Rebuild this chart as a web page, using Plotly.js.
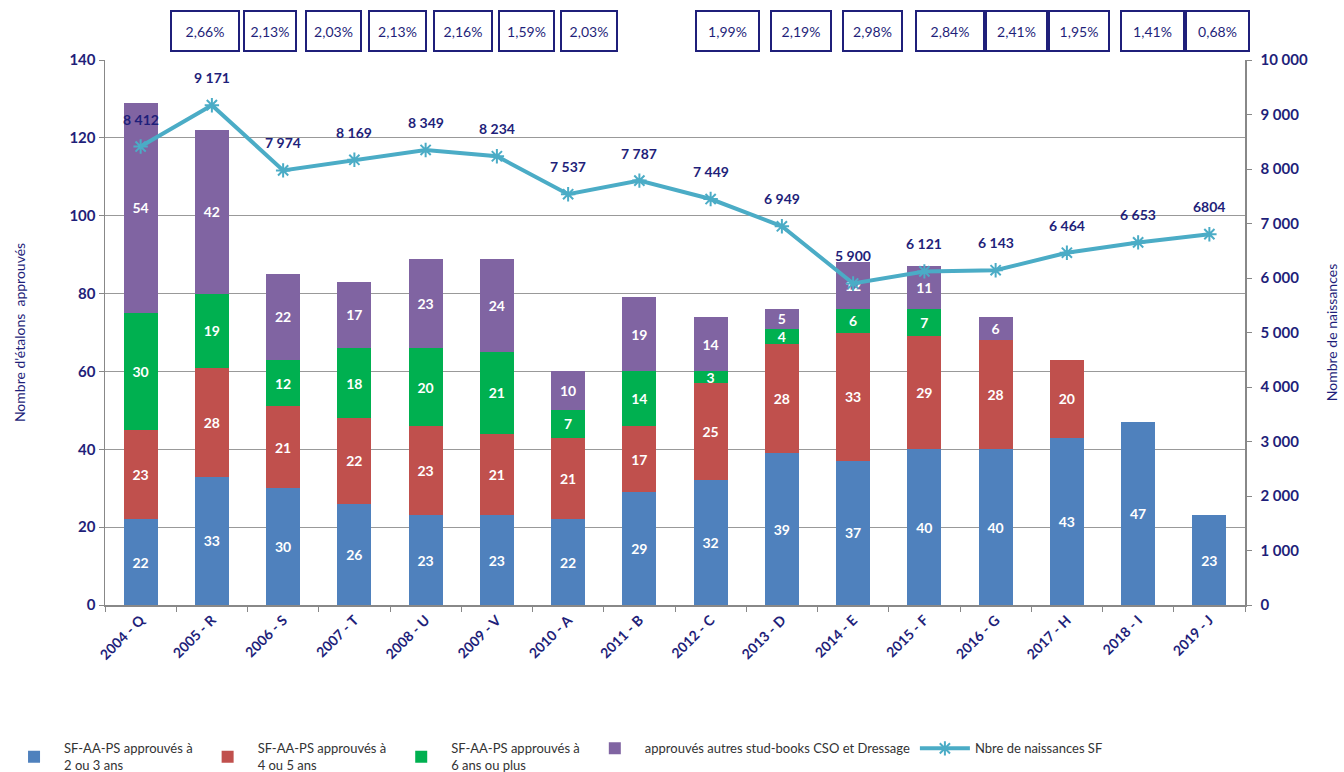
<!DOCTYPE html>
<html>
<head>
<meta charset="utf-8">
<script src="https://cdn.plot.ly/plotly-3.0.1.min.js"></script>
<style>html,body{margin:0;padding:0;background:#fff;}#chart{width:1344px;height:772px;}</style>
</head>
<body>
<div id="chart"></div>
<script>
// ---- data ----
var categories = ["2004 - Q","2005 - R","2006 - S","2007 - T","2008 - U","2009 - V","2010 - A","2011 - B","2012 - C","2013 - D","2014 - E","2015 - F","2016 - G","2017 - H","2018 - I","2019 - J"];
var age23 = [22,33,30,26,23,23,22,29,32,39,37,40,40,43,47,23];
var age45 = [23,28,21,22,23,21,21,17,25,28,33,29,28,20,null,null];
var age6plus = [30,19,12,18,20,21,7,14,3,4,6,7,null,null,null,null];
var autres = [54,42,22,17,23,24,10,19,14,5,12,11,6,null,null,null];
var naissances = [8412,9171,7974,8169,8349,8234,7537,7787,7449,6949,5900,6121,6143,6464,6653,6804];
var naissLabels = ["8 412","9 171","7 974","8 169","8 349","8 234","7 537","7 787","7 449","6 949","5 900","6 121","6 143","6 464","6 653","6804"];
var pourcentages = ["2,66%","2,13%","2,03%","2,13%","2,16%","1,59%","2,03%","1,99%","2,19%","2,98%","2,84%","2,41%","1,95%","1,41%","0,68%"];

// ---- layout constants (positions) ----
var boxX = [0.0877,0.1447,0.2004,0.2566,0.314,0.3697,0.4246,0.546,0.6105,0.6732,0.7412,0.7996,0.8544,0.9189,0.9759];
var boxW = [70,54,57,59,60,57,58,65,62,61,70,63,62,65,65];

var NAVY = "#1F1F7A";
var FONT = "Lato, 'Open Sans', sans-serif";

function barTrace(name, vals, color) {
  return {
    type: "bar", name: name, x: categories, y: vals,
    marker: {color: color},
    text: vals.map(function(v){return v === null ? "" : String(v);}),
    textposition: "inside", insidetextanchor: "middle", textangle: 0,
    textfont: {color: "#ffffff", size: 14, family: FONT, weight: "bold"},
    hoverinfo: "y+name"
  };
}

var traces = [
  barTrace("SF-AA-PS approuvés à<br>2 ou 3 ans", age23, "#4F81BD"),
  barTrace("SF-AA-PS approuvés à<br>4 ou 5 ans", age45, "#C0504D"),
  barTrace("SF-AA-PS approuvés à<br>6 ans ou plus", age6plus, "#00B050"),
  barTrace("approuvés autres stud-books CSO et Dressage", autres, "#8064A2"),
  {
    type: "scatter", mode: "lines+markers", name: "Nbre de naissances SF",
    x: categories, y: naissances, yaxis: "y2",
    line: {color: "#4BACC6", width: 4},
    marker: {symbol: "asterisk-open", size: 12, color: "#4BACC6", line: {color: "#4BACC6", width: 2}}
  }
];

var annotations = [];
for (var i = 0; i < naissances.length; i++) {
  annotations.push({
    x: categories[i], y: naissances[i], xref: "x", yref: "y2",
    text: naissLabels[i], showarrow: false, yanchor: "bottom", yshift: 17,
    font: {color: NAVY, size: 14, family: FONT, weight: "bold"}
  });
}
for (var j = 0; j < pourcentages.length; j++) {
  annotations.push({
    x: boxX[j], y: 1.053, xref: "paper", yref: "paper",
    text: pourcentages[j], showarrow: false, xanchor: "center", yanchor: "middle",
    width: boxW[j] - 8, height: 34, borderpad: 2,
    bordercolor: NAVY, borderwidth: 2, bgcolor: "#ffffff",
    font: {color: NAVY, size: 14, family: FONT}
  });
}

var layout = {
  width: 1344, height: 772,
  margin: {l: 105, r: 99, t: 60, b: 167},
  paper_bgcolor: "#ffffff", plot_bgcolor: "#ffffff",
  barmode: "stack", bargap: 0.52,
  separators: ", ",
  font: {family: FONT, color: NAVY},
  showlegend: true,
  legend: {orientation: "h", xref: "container", yref: "container", x: 0.003, y: 0.05, xanchor: "left", yanchor: "top",
           font: {size: 13, color: "#333333", family: FONT}, itemwidth: 50, traceorder: "normal"},
  uniformtext: {minsize: 14, mode: "show"},
  xaxis: {
    type: "category", range: [-0.5, 15.5], autorange: false,
    tickangle: -45, tickson: "boundaries", ticks: "outside", ticklen: 5,
    tickcolor: "#888888", showline: true, linecolor: "#888888", linewidth: 1.5,
    tickfont: {size: 14, color: NAVY, family: FONT, weight: "bold"},
    showgrid: false
  },
  yaxis: {
    range: [0, 140], dtick: 20, ticks: "outside", ticklen: 5, tickcolor: "#888888",
    showline: true, linecolor: "#888888", linewidth: 1.5,
    showgrid: true, gridcolor: "#999999", gridwidth: 1, zeroline: false,
    tickfont: {size: 15, color: NAVY, family: FONT, weight: "bold"},
    title: {text: "Nombre d'étalons  approuvés", font: {size: 14, color: NAVY, family: FONT}, standoff: 40}
  },
  yaxis2: {
    overlaying: "y", side: "right", range: [0, 10000], dtick: 1000, tickformat: ",",
    ticks: "outside", ticklen: 5, tickcolor: "#888888", ticklabelstandoff: 6,
    showline: true, linecolor: "#888888", linewidth: 1.5, showgrid: false, zeroline: false,
    tickfont: {size: 15, color: NAVY, family: FONT, weight: "bold"},
    title: {text: "Nombre de naissances", font: {size: 14, color: NAVY, family: FONT}, standoff: 20}
  },
  annotations: annotations
};

Plotly.newPlot("chart", traces, layout, {displayModeBar: false, staticPlot: true});
</script>
</body>
</html>
